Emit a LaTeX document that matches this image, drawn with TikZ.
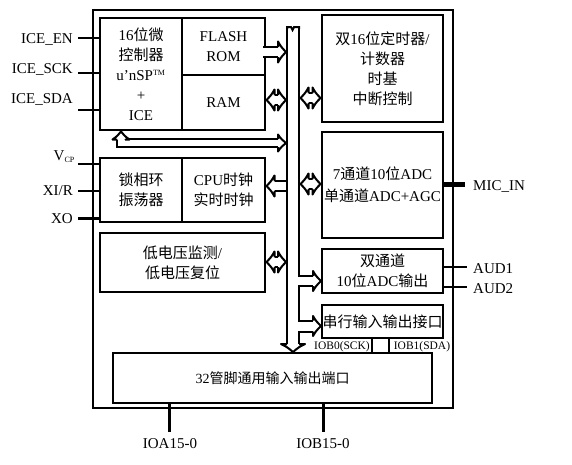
\documentclass[tikz,border=0pt]{standalone}
\usepackage{fontspec}
\setmainfont{Liberation Serif}
\newfontfamily\cjk{Noto Sans CJK SC}
\newcommand\zh[1]{{\cjk #1}}
\newcommand\fsz{\fontsize{15}{20}\selectfont}
\newcommand\fsm{\fontsize{11.5}{12}\selectfont}
\tikzset{
  blk/.style={draw, line width=2.5pt, inner sep=0pt, align=center, font=\fsz},
  pin/.style={line width=2.6pt},
  lbl/.style={font=\fsz, inner sep=0pt},
  slbl/.style={font=\fsm, inner sep=0pt},
  pb/.style={line width=#1, line join=miter, line cap=butt},
  pw/.style={white, line width=#1, line join=miter, line cap=butt},
  pics/phead/.style 2 args={code={
    \fill[white] (-8,-#2) .. controls (-5,-0.5*#2) .. (0,0) .. controls (-5,0.5*#2) .. (-8,#2) -- cycle;
    \draw[line width=2pt, line join=round] (-8,-#1) -- (-8,-#2) .. controls (-5,-0.5*#2) .. (0,0)
      .. controls (-5,0.5*#2) .. (-8,#2) -- (-8,#1);
  }},
}
\begin{document}
\begin{tikzpicture}[x=1pt,y=-1pt]
\useasboundingbox (0,0) rectangle (572,464);
% blocks
\node[blk, minimum width=360pt, minimum height=398pt] (chip) at (273,209) {};
\node[blk, minimum width=82pt, minimum height=112pt] (mcu) at (141,74)
  {16\zh{位微}\\\zh{控制器}\\u’nSP\textsuperscript{\fontsize{8}{8}\selectfont TM}\\+\\ICE};
\node[blk, minimum width=83pt, minimum height=57pt] (flash) at (223.5,46.5) {FLASH\\ROM};
\node[blk, minimum width=83pt, minimum height=55pt] (ram) at (223.5,102.5) {RAM};
\node[blk, minimum width=82pt, minimum height=64pt] (pll) at (141,190) {\zh{锁相环}\\\zh{振荡器}};
\node[blk, minimum width=83pt, minimum height=64pt] (cpu) at (223.5,190) {CPU\zh{时钟}\\\zh{实时时钟}};
\node[blk, minimum width=165pt, minimum height=59pt] (lv) at (182.5,262.5) {\zh{低电压监测}/\\\zh{低电压复位}};
\node[blk, minimum width=121pt, minimum height=107pt] (timer) at (382.5,68.5)
  {\zh{双}16\zh{位定时器}/\\\zh{计数器}\\\zh{时基}\\\zh{中断控制}};
\node[blk, minimum width=121pt, minimum height=106pt] (adc) at (382.5,185)
  {7\zh{通道}10\zh{位}ADC\\[2pt]\zh{单通道}ADC+AGC};
\node[blk, minimum width=121pt, minimum height=44pt] (dac) at (382.5,271) {\zh{双通道}\\10\zh{位}ADC\zh{输出}};
\node[blk, minimum width=121pt, minimum height=33pt] (ser) at (382.5,321.5) {\zh{串行输入输出接口}};
\node[blk, minimum width=319pt, minimum height=50pt, font=\fontsize{14}{16}\selectfont] (io) at (272.5,378)
  {32\zh{管脚通用输入输出端口}};
% bus network
\draw[pb=14pt] (293,28) -- (293,345);
\draw[pb=12pt] (293,281) -- (314,281);
\draw[pb=13pt] (293,326) -- (314,326);
\draw[pw=10pt] (293,28) -- (293,345);
\draw[pw=8pt] (293,281) -- (314,281);
\draw[pw=9pt] (293,326) -- (314,326);
\draw[line width=2pt, line join=miter] (287,29) -- (287,27) -- (291,27) -- (292.5,30) -- (294,27) -- (299,27) -- (299,29);
\path (321,281) pic {phead={5}{10}};
\path (321,326) pic {phead={5.5}{10}};
\path (293,352) pic[rotate=-90] {phead={6}{12}};
% FLASH -> bus
\draw[pb=12pt] (263,52) -- (279,52);
\draw[pw=8pt] (263,52) -- (279,52);
\path (286,52) pic {phead={5}{10.5}};
% RAM <-> bus
\draw[pb=12pt] (273.5,100) -- (279,100);
\draw[pw=8pt] (273.5,100) -- (279,100);
\path (266.5,100) pic[rotate=180] {phead={5}{10.5}};
\path (286,100) pic {phead={5}{10.5}};
% MCU <-> bus
\draw[pb=10pt] (121,138.5) -- (121,143) -- (279,143);
\draw[pw=6pt] (121,138.5) -- (121,143) -- (279,143);
\path (121,131.5) pic[rotate=90] {phead={4}{8.5}};
\path (286,143) pic {phead={4}{8.5}};
% bus -> CPU clock
\draw[pb=12pt] (273.5,186) -- (286,186);
\draw[pw=8pt] (273.5,186) -- (286,186);
\path (266.5,186) pic[rotate=180] {phead={5}{10.5}};
% LV <-> bus
\draw[pb=12pt] (273.5,262) -- (279,262);
\draw[pw=8pt] (273.5,262) -- (279,262);
\path (266.5,262) pic[rotate=180] {phead={5}{10.5}};
\path (286,262) pic {phead={5}{10.5}};
% timer <-> bus
\draw[pb=12pt] (307.5,98) -- (313.5,98);
\draw[pw=8pt] (307.5,98) -- (313.5,98);
\path (300.5,98) pic[rotate=180] {phead={5}{10.5}};
\path (320.5,98) pic {phead={5}{10.5}};
% ADC <-> bus
\draw[pb=12pt] (307.5,184) -- (313.5,184);
\draw[pw=8pt] (307.5,184) -- (313.5,184);
\path (300.5,184) pic[rotate=180] {phead={5}{10.5}};
\path (320.5,184) pic {phead={5}{10.5}};
% left pins
\draw[pin] (78,38) -- (mcu.west |- 0,38);
\draw[pin] (78,73) -- (mcu.west |- 0,73);
\draw[pin] (78,110) -- (mcu.west |- 0,110);
\draw[pin] (78,164) -- (pll.west |- 0,164);
\draw[pin] (78,191) -- (pll.west |- 0,191);
\draw[line width=3pt] (78,218) -- (pll.west |- 0,218);
\node[lbl, anchor=base east] (len) at (73,43) {ICE\_EN};
\node[lbl, anchor=base east] (lsck) at (73,73) {ICE\_SCK};
\node[lbl, anchor=base east] (lsda) at (73,103) {ICE\_SDA};
\node[lbl, anchor=base east] (lvcp) at (75,160) {V\textsubscript{\fontsize{8}{8}\selectfont CP}};
\node[lbl, anchor=base east] (lxi) at (73,195) {XI/R};
\node[lbl, anchor=base east] (lxo) at (73,223) {XO};
% right pins
\draw[line width=5pt] (adc.east |- 0,184) -- (465,184);
\draw[line width=2pt] (dac.east |- 0,267) -- (467,267);
\draw[line width=2.5pt] (dac.east |- 0,287) -- (467,287);
\node[lbl, anchor=base west] (lmic) at (473,190) {MIC\_IN};
\node[lbl, anchor=base west] (laud1) at (473,273) {AUD1};
\node[lbl, anchor=base west] (laud2) at (473,293) {AUD2};
% serial pins
\draw[line width=2pt] (ser.south -| 372,0) -- (io.north -| 372,0);
\draw[line width=2pt] (ser.south -| 389,0) -- (io.north -| 389,0);
\node[slbl, anchor=base] (lsck0) at (342,349) {IOB0(SCK)};
\node[slbl, anchor=base] (lsda1) at (422,349) {IOB1(SDA)};
% bottom pins
\draw[line width=3pt] (io.south -| 169,0) -- (169,432);
\draw[line width=3pt] (io.south -| 323,0) -- (323,432);
\node[lbl, anchor=base] (lioa) at (170,448) {IOA15-0};
\node[lbl, anchor=base] (liob) at (323,448) {IOB15-0};
\end{tikzpicture}
\end{document}
